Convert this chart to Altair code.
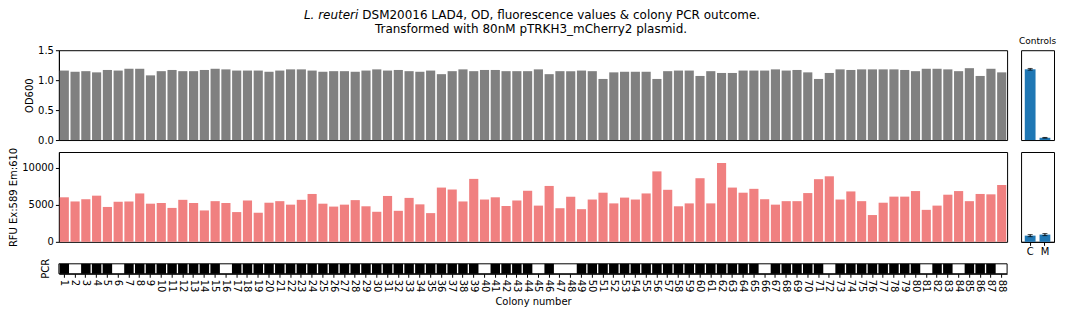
import altair as alt
import pandas as pd

# ---------------- data ----------------
colonies = list(range(1, 89))

od600 = [1.16, 1.14, 1.15, 1.13, 1.17, 1.16, 1.19, 1.19, 1.08, 1.15,
         1.17, 1.15, 1.15, 1.17, 1.19, 1.18, 1.16, 1.16, 1.16, 1.14,
         1.16, 1.18, 1.18, 1.16, 1.14, 1.15, 1.15, 1.14, 1.16, 1.18,
         1.16, 1.17, 1.15, 1.14, 1.16, 1.10, 1.15, 1.18, 1.15, 1.17,
         1.17, 1.15, 1.15, 1.15, 1.18, 1.10, 1.15, 1.15, 1.16, 1.15,
         1.02, 1.13, 1.14, 1.14, 1.14, 1.02, 1.15, 1.16, 1.16, 1.07,
         1.15, 1.12, 1.12, 1.16, 1.16, 1.16, 1.18, 1.16, 1.17, 1.13,
         1.02, 1.12, 1.18, 1.17, 1.18, 1.18, 1.18, 1.18, 1.17, 1.15,
         1.19, 1.19, 1.18, 1.15, 1.20, 1.07, 1.19, 1.13]

rfu = [6000, 5440, 5740, 6220, 4700, 5400, 5440, 6520, 5140, 5230,
       4570, 5660, 5230, 4230, 5480, 5230, 4010, 5570, 3920, 5270,
       5480, 5010, 5660, 6450, 5140, 4750, 5010, 5620, 4790, 4050,
       6180, 4180, 5920, 5050, 3870, 7310, 7050, 5440, 8480, 5700,
       6000, 4830, 5570, 6880, 4880, 7530, 4530, 6090, 4400, 5700,
       6620, 5180, 5960, 5700, 6520, 9490, 7010, 4790, 5180, 8570,
       5180, 10620, 7310, 6620, 7140, 5740, 5010, 5480, 5480, 6570,
       8440, 8830, 5700, 6790, 5480, 3610, 5270, 6090, 6090, 6840,
       4310, 4880, 6350, 6840, 5480, 6450, 6400, 7660]

pcr_negative = [2, 6, 16, 40, 45, 47, 48, 66, 72, 81, 84, 88]
pcr = [0 if c in pcr_negative else 1 for c in colonies]

ctrl_labels = ["C", "M"]
ctrl_od = [1.26, 0.04]
ctrl_od_err = [0.015, 0.006]
ctrl_rfu = [900, 1050]
ctrl_rfu_err = [150, 150]

title_italic = "L. reuteri"
title_rest = "DSM20016 LAD4, OD, fluorescence values & colony PCR outcome."
title_line2 = "Transformed with 80nM pTRKH3_mCherry2 plasmid."
controls_title = "Controls"
pcr_rows = ["gap", "PCR"]

df = pd.DataFrame({"colony": colonies, "od": od600, "rfu": rfu,
                   "pcr": pcr, "row": ["PCR"] * len(colonies)})
ctrl = pd.DataFrame({
    "ctrl": ctrl_labels,
    "od": ctrl_od,
    "od_lo": [v - e for v, e in zip(ctrl_od, ctrl_od_err)],
    "od_hi": [v + e for v, e in zip(ctrl_od, ctrl_od_err)],
    "rfu": ctrl_rfu,
    "rfu_lo": [v - e for v, e in zip(ctrl_rfu, ctrl_rfu_err)],
    "rfu_hi": [v + e for v, e in zip(ctrl_rfu, ctrl_rfu_err)],
})

W = 950
H = 90
CW = 33
OD_DOMAIN = [0, 1.5]
RFU_DOMAIN = [0, 12100]

bar_x_scale = alt.Scale(paddingInner=0.15, paddingOuter=0.075)

# ---------------- OD main ----------------
od_bars = alt.Chart(df).mark_bar(color="#808080").encode(
    x=alt.X("colony:O", axis=None, scale=bar_x_scale),
    y=alt.Y("od:Q", scale=alt.Scale(domain=OD_DOMAIN),
            axis=alt.Axis(values=[0, 0.5, 1.0, 1.5], format=".1f", title="OD600")),
)
TX = 300  # split point of title line 1 (relative to plot left)
t1 = alt.Chart(pd.DataFrame({"t": [title_italic]})).mark_text(
    fontStyle="italic", align="right", baseline="middle", fontSize=12, color="black"
).encode(text="t:N", x=alt.value(TX), y=alt.value(-35))
t2 = alt.Chart(pd.DataFrame({"t": [title_rest]})).mark_text(
    align="left", baseline="middle", fontSize=12, color="black"
).encode(text="t:N", x=alt.value(TX + 4), y=alt.value(-35))
t3 = alt.Chart(pd.DataFrame({"t": [title_line2]})).mark_text(
    align="center", baseline="middle", fontSize=12, color="black"
).encode(text="t:N", x=alt.value(473), y=alt.value(-21))
od_main = alt.layer(od_bars, t1, t2, t3).properties(width=W, height=H)

# ---------------- OD controls ----------------
ctrl_x_scale = alt.Scale(paddingInner=0.27, paddingOuter=0.25)
odc_bar = alt.Chart(ctrl).mark_bar(color="#1f77b4").encode(
    x=alt.X("ctrl:N", axis=None, scale=ctrl_x_scale, sort=ctrl_labels),
    y=alt.Y("od:Q", scale=alt.Scale(domain=OD_DOMAIN), axis=None),
)
odc_rule = alt.Chart(ctrl).mark_rule(color="black").encode(
    x=alt.X("ctrl:N", sort=ctrl_labels), y="od_lo:Q", y2="od_hi:Q")
odc_cap1 = alt.Chart(ctrl).mark_tick(color="black", size=5, thickness=1).encode(
    x=alt.X("ctrl:N", sort=ctrl_labels), y="od_lo:Q")
odc_cap2 = alt.Chart(ctrl).mark_tick(color="black", size=5, thickness=1).encode(
    x=alt.X("ctrl:N", sort=ctrl_labels), y="od_hi:Q")
odc_title = alt.Chart(pd.DataFrame({"t": [controls_title]})).mark_text(
    align="center", baseline="middle", fontSize=9, color="black"
).encode(text="t:N", x=alt.value(CW / 2), y=alt.value(-9))
od_ctrl = alt.layer(odc_bar, odc_rule, odc_cap1, odc_cap2, odc_title).properties(
    width=CW, height=H)

# ---------------- RFU main ----------------
rfu_main = alt.Chart(df).mark_bar(color="#f08080").encode(
    x=alt.X("colony:O", axis=None, scale=bar_x_scale),
    y=alt.Y("rfu:Q", scale=alt.Scale(domain=RFU_DOMAIN),
            axis=alt.Axis(values=[0, 5000, 10000], format="d",
                          title="RFU Ex:589 Em:610")),
).properties(width=W, height=H)

# ---------------- RFU controls ----------------
rfc_bar = alt.Chart(ctrl).mark_bar(color="#1f77b4").encode(
    x=alt.X("ctrl:N", scale=ctrl_x_scale, sort=ctrl_labels,
            axis=alt.Axis(title=None, labelAngle=0, labelPadding=1)),
    y=alt.Y("rfu:Q", scale=alt.Scale(domain=RFU_DOMAIN), axis=None),
)
rfc_rule = alt.Chart(ctrl).mark_rule(color="black").encode(
    x=alt.X("ctrl:N", sort=ctrl_labels), y="rfu_lo:Q", y2="rfu_hi:Q")
rfc_cap1 = alt.Chart(ctrl).mark_tick(color="black", size=5, thickness=1).encode(
    x=alt.X("ctrl:N", sort=ctrl_labels), y="rfu_lo:Q")
rfc_cap2 = alt.Chart(ctrl).mark_tick(color="black", size=5, thickness=1).encode(
    x=alt.X("ctrl:N", sort=ctrl_labels), y="rfu_hi:Q")
rfu_ctrl = alt.layer(rfc_bar, rfc_rule, rfc_cap1, rfc_cap2).properties(width=CW, height=H)

# ---------------- PCR strip ----------------
pcr_x = alt.X("colony:O", scale=alt.Scale(paddingInner=0.12, paddingOuter=0.06),
              axis=alt.Axis(title="Colony number", labelAngle=90, titlePadding=5))
pcr_y = alt.Y("row:N", scale=alt.Scale(domain=pcr_rows, paddingInner=0, paddingOuter=0),
              axis=alt.Axis(title=None, ticks=False, domain=False, labelAngle=-90,
                            labelAlign="center", labelBaseline="bottom", labelPadding=8,
                            labelExpr="datum.value == 'PCR' ? 'PCR' : ''"))
pcr_cells = alt.Chart(df).mark_rect().encode(
    x=pcr_x, y=pcr_y,
    color=alt.Color("pcr:N", scale=alt.Scale(domain=[0, 1], range=["white", "black"]),
                    legend=None),
)
pcr_frame = alt.Chart(pd.DataFrame({"row": ["PCR"]})).mark_rect(
    fill=None, stroke="black", strokeWidth=1
).encode(y=alt.Y("row:N"), x=alt.value(0), x2=alt.value(W))
pcr_chart = alt.layer(pcr_cells, pcr_frame).properties(
    width=W, height=20, view=alt.ViewBackground(stroke=None))

chart = alt.concat(
    od_main, od_ctrl, rfu_main, rfu_ctrl, pcr_chart,
    columns=2, spacing={"row": 12, "column": 14}, align="each", bounds="flush",
).properties(
    padding={"left": 0, "top": 0, "right": 0, "bottom": 0}
).configure(
    font="DejaVu Sans"
).configure_view(
    stroke="black", strokeWidth=1
).configure_axis(
    domainColor="black", tickColor="black", labelColor="black", titleColor="black",
    labelFontSize=10, titleFontSize=10, titleFontWeight="normal",
    grid=False, tickSize=3.5, labelPadding=2, titlePadding=3,
    labelFont="DejaVu Sans", titleFont="DejaVu Sans",
)

chart.save("out.html", embed_options={"renderer": "svg", "actions": False})
